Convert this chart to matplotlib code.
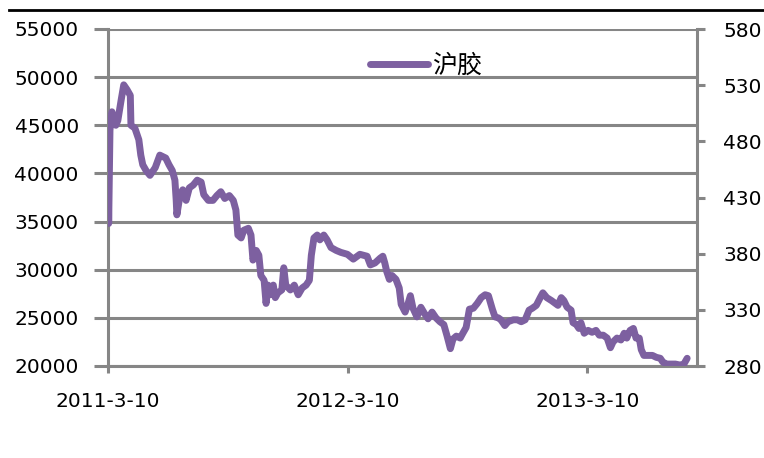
import pandas as pd
import matplotlib.pyplot as plt
from matplotlib.lines import Line2D

# 沪胶 price series
dates = [
    '2011-03-10', '2011-03-11', '2011-03-13', '2011-03-16', '2011-03-22', '2011-03-25',
    '2011-03-30', '2011-04-03', '2011-04-08', '2011-04-13', '2011-04-14', '2011-04-20',
    '2011-04-26', '2011-04-29', '2011-05-02', '2011-05-07', '2011-05-13', '2011-05-21',
    '2011-05-28', '2011-06-06', '2011-06-11', '2011-06-16', '2011-06-20', '2011-06-22',
    '2011-06-23', '2011-06-28', '2011-07-02', '2011-07-07', '2011-07-12', '2011-07-18',
    '2011-07-24', '2011-07-30', '2011-08-03', '2011-08-10', '2011-08-17', '2011-08-23',
    '2011-08-29', '2011-09-04', '2011-09-11', '2011-09-17', '2011-09-21', '2011-09-24',
    '2011-09-29', '2011-10-03', '2011-10-10', '2011-10-14', '2011-10-17', '2011-10-22',
    '2011-10-26', '2011-10-29', '2011-11-03', '2011-11-06', '2011-11-09', '2011-11-12',
    '2011-11-17', '2011-11-20', '2011-11-24', '2011-11-30', '2011-12-03', '2011-12-06',
    '2011-12-13', '2011-12-19', '2011-12-25', '2011-12-31', '2012-01-06', '2012-01-11',
    '2012-01-14', '2012-01-18', '2012-01-23', '2012-01-27', '2012-02-02', '2012-02-07',
    '2012-02-13', '2012-02-21', '2012-02-28', '2012-03-09', '2012-03-18', '2012-03-28',
    '2012-04-08', '2012-04-13', '2012-04-20', '2012-04-28', '2012-05-02', '2012-05-05',
    '2012-05-08', '2012-05-12', '2012-05-16', '2012-05-22', '2012-05-27', '2012-05-30',
    '2012-06-05', '2012-06-10', '2012-06-13', '2012-06-17', '2012-06-23', '2012-06-29',
    '2012-07-05', '2012-07-10', '2012-07-16', '2012-07-22', '2012-07-28', '2012-08-03',
    '2012-08-08', '2012-08-13', '2012-08-17', '2012-08-22', '2012-08-28', '2012-09-01',
    '2012-09-06', '2012-09-11', '2012-09-17', '2012-09-23', '2012-09-29', '2012-10-05',
    '2012-10-10', '2012-10-16', '2012-10-20', '2012-10-25', '2012-10-29', '2012-11-04',
    '2012-11-09', '2012-11-17', '2012-11-23', '2012-11-29', '2012-12-05', '2012-12-11',
    '2012-12-16', '2012-12-22', '2012-12-28', '2013-01-01', '2013-01-07', '2013-01-14',
    '2013-01-20', '2013-01-24', '2013-01-29', '2013-02-02', '2013-02-07', '2013-02-13',
    '2013-02-16', '2013-02-21', '2013-02-25', '2013-02-28', '2013-03-05', '2013-03-11',
    '2013-03-17', '2013-03-23', '2013-03-28', '2013-04-03', '2013-04-09', '2013-04-14',
    '2013-04-18', '2013-04-24', '2013-04-30', '2013-05-05', '2013-05-09', '2013-05-14',
    '2013-05-19', '2013-05-23', '2013-05-28', '2013-05-31', '2013-06-04', '2013-06-11',
    '2013-06-17', '2013-06-23', '2013-06-29', '2013-07-03', '2013-07-09', '2013-07-16',
    '2013-07-22', '2013-07-29', '2013-08-04', '2013-08-09',
]
rubber = [
    42700, 34800, 44500, 46400, 45000, 45500,
    47600, 49200, 48700, 48100, 45000, 44700,
    43500, 41900, 40900, 40300, 39800, 40600,
    41900, 41600, 40900, 40300, 39300, 37200,
    35700, 37800, 38300, 37200, 38500, 38800,
    39300, 39100, 37800, 37200, 37200, 37700,
    38100, 37400, 37700, 37200, 36200, 33600,
    33300, 34100, 34300, 33600, 31000, 32000,
    31500, 29400, 28900, 26500, 28400, 27400,
    28400, 27100, 27600, 27900, 30200, 28400,
    27900, 28400, 27400, 28100, 28400, 28900,
    31500, 33300, 33600, 33100, 33600, 33100,
    32300, 32000, 31800, 31600, 31100, 31600,
    31400, 30500, 30700, 31200, 31400, 30700,
    29800, 29000, 29400, 29000, 28100, 26400,
    25600, 26600, 27300, 26000, 25100, 26100,
    25400, 24900, 25600, 25000, 24600, 24300,
    23100, 21800, 22800, 23100, 22900, 23400,
    24000, 25900, 26000, 26500, 27100, 27400,
    27300, 25900, 25100, 25000, 24800, 24200,
    24600, 24800, 24800, 24600, 24800, 25800,
    26000, 26300, 27100, 27600, 27100, 26800,
    26500, 26300, 27100, 26800, 26100, 25800,
    24500, 24300, 23900, 24500, 23400, 23700,
    23500, 23700, 23200, 23200, 22900, 21900,
    22500, 22900, 22700, 23400, 22900, 23700,
    23900, 22900, 22900, 21700, 21100, 21100,
    21100, 20900, 20800, 20400, 20200, 20200,
    20200, 20100, 20200, 20800,
]

left_ticks = [20000, 25000, 30000, 35000, 40000, 45000, 50000, 55000]
right_ticks = [280, 330, 380, 430, 480, 530, 580]
xtick_dates = ['2011-03-10', '2012-03-10', '2013-03-10']
xtick_labels = ['2011-3-10', '2012-3-10', '2013-3-10']

purple = '#7D60A0'
grey = '#868686'

fig = plt.figure(figsize=(7.64, 4.58), dpi=100)
ax = fig.add_axes([108 / 764, 1 - 366 / 458, 589 / 764, 337 / 458])

ax.plot(pd.to_datetime(dates), rubber, color=purple, lw=5,
        solid_joinstyle='round', solid_capstyle='round', zorder=3)

ax.set_ylim(20000, 55000)
ax.set_yticks(left_ticks)
ax.set_xlim(pd.Timestamp('2011-03-10'), pd.Timestamp('2013-08-24'))
ax.set_xticks(pd.to_datetime(xtick_dates))
ax.set_xticklabels(xtick_labels)
ax.grid(axis='y', color=grey, lw=2.2)
ax.set_axisbelow(True)

for side in ['left', 'bottom']:
    ax.spines[side].set_color(grey)
    ax.spines[side].set_linewidth(2.2)
ax.spines['top'].set_visible(False)
ax.spines['right'].set_visible(False)

ax.tick_params(axis='y', length=10, width=2.2, color=grey, pad=11,
               labelsize=14.5)
ax.tick_params(axis='x', length=5, width=2.2, color=grey, pad=14,
               labelsize=14.5)

ax2 = ax.twinx()
ax2.set_ylim(280, 580)
ax2.set_yticks(right_ticks)
for side in ['left', 'bottom', 'top']:
    ax2.spines[side].set_visible(False)
ax2.spines['right'].set_color(grey)
ax2.spines['right'].set_linewidth(2.2)
ax2.tick_params(axis='y', length=6, width=2.2, color=grey, pad=13,
                labelsize=14.5)

# black rule across the top
fig.add_artist(Line2D([9 / 764, 1], [1 - 10 / 458, 1 - 10 / 458],
                      transform=fig.transFigure, color='black', lw=2))

handle = Line2D([], [], color=purple, lw=5, solid_capstyle='round')
fig.legend(handles=[handle], labels=['沪胶'], loc='center left',
           bbox_to_anchor=(370 / 764, 1 - 66 / 458), frameon=False,
           prop={'family': ['Noto Sans CJK SC', 'DejaVu Sans'], 'size': 18},
           handlelength=2.3, handletextpad=0.2, borderpad=0,
           borderaxespad=0)

fig.savefig('out.png', dpi=100)
